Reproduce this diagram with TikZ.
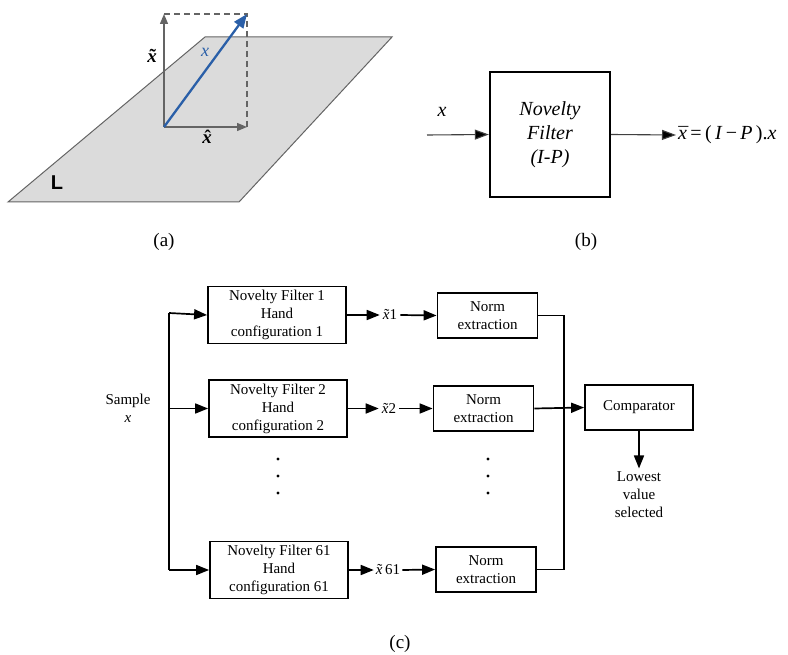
\documentclass[tikz,border=0pt]{standalone}
\usepackage{fontspec}
\setmainfont{Liberation Serif}
\newfontfamily\lsans{Liberation Sans}
\usetikzlibrary{arrows.meta,positioning}
\definecolor{vecblue}{RGB}{42,95,168}
\definecolor{vecgray}{RGB}{100,100,100}
\newcommand\accx[1]{\ooalign{\textit{x}\cr\hidewidth\kern0.08em #1\hidewidth\cr}}
\newcommand\tldx{\accx{˜}}
\newcommand\hatx{\accx{ˆ}}
\newcommand\barx{\accx{\raisebox{-0.08em}{¯}}}

\begin{document}
\begin{tikzpicture}[x=1pt,y=-1pt,
      every node/.style={font=\fontsize{15}{18}\selectfont},
      blk/.style={draw,line width=1.8pt,align=center,inner sep=0pt,
        minimum width=138pt,minimum height=57pt},
      nrm/.style={blk,minimum width=100pt,minimum height=45pt},
      arr/.style={line width=1.7pt,-{Triangle[length=13pt,width=10pt]}},
      thin arr/.style={black!75,line width=1.1pt,-{Triangle[length=14pt,width=10pt,fill=black]}},
      vec/.style={vecgray,line width=1.3pt,-{Triangle[length=10pt,width=8pt]}},
      dot/.style={circle,fill,inner sep=0pt,minimum size=3.2pt},
      big/.style={font=\fontsize{20}{24}\selectfont},
      caplbl/.style={font=\fontsize{19}{22}\selectfont}]
  \useasboundingbox (0,0) rectangle (788,655);

  \filldraw[fill=gray!28,draw=vecgray,line width=1pt]
    (8,202) -- (239,202) -- (392,37) -- (205,37) -- cycle;
  \coordinate (o) at (164,127);
  \coordinate (t) at (164,14);
  \coordinate (h) at (247,127);
  \coordinate (c) at (247,14);
  \draw[vecgray,line width=1.1pt,dash pattern=on 6pt off 4pt] (t) -- (c) -- (h);
  \draw[vec] (o) -- (t);
  \draw[vec] (o) -- (h);
  \draw[vecblue,line width=2.3pt,-{Triangle[length=14pt,width=11pt]}] (o) -- (c);
  \node[font=\fontsize{19}{20}\selectfont\bfseries] (xt) at (152,58) {\tldx};
  \node[text=vecblue,font=\fontsize{18}{20}\selectfont] (xb) at (205,52) {\textit{x}};
  \node[font=\fontsize{19}{20}\selectfont\bfseries] (xh) at (207,139) {\hatx};
  \node[font=\fontsize{20}{22}\selectfont\lsans\bfseries] (pl) at (57,183) {L};
  \node[caplbl] (ca) at (164,242) {(a)};

  \node[draw,line width=2.4pt,minimum width=120pt,minimum height=125pt,align=center,
    font=\fontsize{20}{24}\selectfont\itshape] (nf) at (550,134.5) {Novelty\\Filter\\(I-P)};
  \coordinate (in) at (427,135);
  \node[big] (xin) at (442,112) {\textit{x}};
  \node[big,anchor=west,inner sep=2pt] (eq) at (676,135)
    {\barx\,=\,(\,\textit{I}\,−\,\textit{P}\,).\textit{x}};
  \draw[thin arr] (in) -- (nf.west);
  \draw[thin arr] (nf.east) -- (eq.west);
  \node[caplbl] (cb) at (586,242) {(b)};

  \node[blk] (f1) at (277,315) {Novelty Filter 1\\Hand\\configuration 1};
  \node[blk] (f2) at (278,408.5) {Novelty Filter 2\\Hand\\configuration 2};
  \node[blk] (f61) at (279,570) {Novelty Filter 61\\Hand\\configuration 61};
  \node[align=center] (s) at (128,408) {Sample\\\textit{x}};
  \coordinate (b1) at (169,313);
  \coordinate (b2) at (169,408.5);
  \coordinate (b61) at (169,570);
  \draw[line width=1.7pt] (b1) -- (b61);
  \draw[arr] (b1) -- (f1.west);
  \draw[arr] (b2) -- (f2.west);
  \draw[arr] (b61) -- (f61.west);

  \node[inner sep=3pt] (x1) at (390,315) {\tldx1};
  \node[inner sep=3pt] (x2) at (389,408.5) {\tldx2};
  \node[inner sep=2pt] (x61) at (388,570) {\tldx\,61};
  \draw[arr] (f1.east) -- (x1.west);
  \draw[arr] (f2.east) -- (x2.west);
  \draw[arr] (f61.east) -- (x61.west);

  \node[nrm] (n1) at (487.5,315.5) {Norm\\extraction};
  \node[nrm] (n2) at (483.5,408.5) {Norm\\extraction};
  \node[nrm] (n61) at (486,569.5) {Norm\\extraction};
  \draw[arr] (x1.east) -- (n1.west);
  \draw[arr] (x2.east) -- (n2.west);
  \draw[arr] (x61.east) -- (n61.west);

  \node[nrm,minimum width=108pt] (cmp) at (639,407.5) {Comparator};
  \coordinate (r1) at (564,315.5);
  \coordinate (r61) at (564,569.5);
  \draw[line width=1.7pt] (n1.east) -- (r1) -- (r61) -- (n61.east);
  \draw[arr] (n2.east) -- (cmp.west);
  \node[align=center] (low) at (639,495) {Lowest\\value\\selected};
  \draw[arr] (cmp.south) -- (low.north);

  \foreach \y in {459,476,493} {
    \node[dot] at (278,\y) {};
    \node[dot] at (488,\y) {};
  }
  \node[caplbl] (cc) at (400,644) {(c)};
\end{tikzpicture}
\end{document}
